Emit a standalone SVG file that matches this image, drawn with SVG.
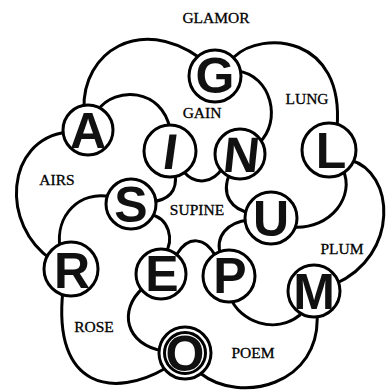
<svg xmlns="http://www.w3.org/2000/svg" width="387" height="390" viewBox="0 0 387 390">
<style>
.arc{fill:none;stroke:#000;stroke-width:3;stroke-linecap:round}
.ring{fill:#fff;stroke:#000;stroke-width:3}
.let{font-family:"Liberation Sans",Arial,sans-serif;font-weight:bold;font-size:50px;text-anchor:middle;fill:#111}
.lab{font-family:"Liberation Serif","Times New Roman",serif;font-size:15.5px;text-anchor:middle;fill:#000;stroke:#000;stroke-width:0.3}
</style>
<rect width="387" height="390" fill="#fff"/>
<g id="connectors">
<path class="arc" d="M84,109 C82,52 140,15 200,58"/>
<path class="arc" d="M234,57 C262,30 345,35 337,128"/>
<path class="arc" d="M350,160 C395,172 400,255 335,284"/>
<path class="arc" d="M317,313 C322,385 240,405 200,373"/>
<path class="arc" d="M166,368 C115,398 52,390 63,290"/>
<path class="arc" d="M52,260 C0,225 5,140 67,132"/>
<path class="arc" d="M184,172 C195,185 213,184 223,167"/>
<path class="arc" d="M230,173 C220,195 232,210 251,213"/>
<path class="arc" d="M249,220 C228,222 214,236 221,256"/>
<path class="arc" d="M177,254 C188,236 205,236 216,257"/>
<path class="arc" d="M149,214 C170,218 174,240 165,254"/>
<path class="arc" d="M175,173 C178,192 168,200 151,202"/>
<path class="arc" d="M98,110 C115,86 162,88 170,129"/>
<path class="arc" d="M237,71 C272,75 282,122 259,143"/>
<path class="arc" d="M343,170 C355,195 332,230 292,227"/>
<path class="arc" d="M230,297 C240,322 275,335 300,315"/>
<path class="arc" d="M143,288 C118,310 125,345 164,351"/>
<path class="arc" d="M60,248 C55,215 80,190 111,197"/>
</g>
<g id="node-A"><circle class="ring" cx="88" cy="130" r="25"/><text class="let" x="88" y="148">A</text></g>
<g id="node-G"><circle class="ring" cx="215" cy="76" r="26"/><text class="let" x="215" y="93">G</text></g>
<g id="node-L"><circle class="ring" cx="329" cy="150" r="27"/><text class="let" x="331" y="168">L</text></g>
<g id="node-M"><circle class="ring" cx="314" cy="291" r="26"/><text class="let" x="314" y="309">M</text></g>
<g id="node-O"><circle class="ring" cx="185" cy="353" r="26"/><circle class="ring" cx="185" cy="353" r="20.5"/><text class="let" x="185" y="371">O</text></g>
<g id="node-R"><circle class="ring" cx="71" cy="269" r="27"/><text class="let" x="72" y="288">R</text></g>
<g id="node-I"><circle class="ring" cx="170" cy="151" r="26"/><text class="let" x="171" y="169" transform="skewX(-8) translate(21,0)">I</text></g>
<g id="node-N"><circle class="ring" cx="240" cy="154" r="25"/><text class="let" x="240" y="172" transform="skewX(-6) translate(18,0)">N</text></g>
<g id="node-U"><circle class="ring" cx="271" cy="218" r="26"/><text class="let" x="271" y="236">U</text></g>
<g id="node-P"><circle class="ring" cx="229" cy="276" r="26"/><text class="let" x="230" y="293">P</text></g>
<g id="node-E"><circle class="ring" cx="161" cy="274" r="25"/><text class="let" x="162" y="291">E</text></g>
<g id="node-S"><circle class="ring" cx="131" cy="204" r="25"/><text class="let" x="131" y="222">S</text></g>
<g id="labels">
<text class="lab" x="216" y="23">GLAMOR</text>
<text class="lab" x="202" y="118">GAIN</text>
<text class="lab" x="307" y="104">LUNG</text>
<text class="lab" x="57" y="185">AIRS</text>
<text class="lab" x="197" y="215">SUPINE</text>
<text class="lab" x="342" y="254">PLUM</text>
<text class="lab" x="94" y="332">ROSE</text>
<text class="lab" x="253" y="358">POEM</text>
</g>
</svg>
